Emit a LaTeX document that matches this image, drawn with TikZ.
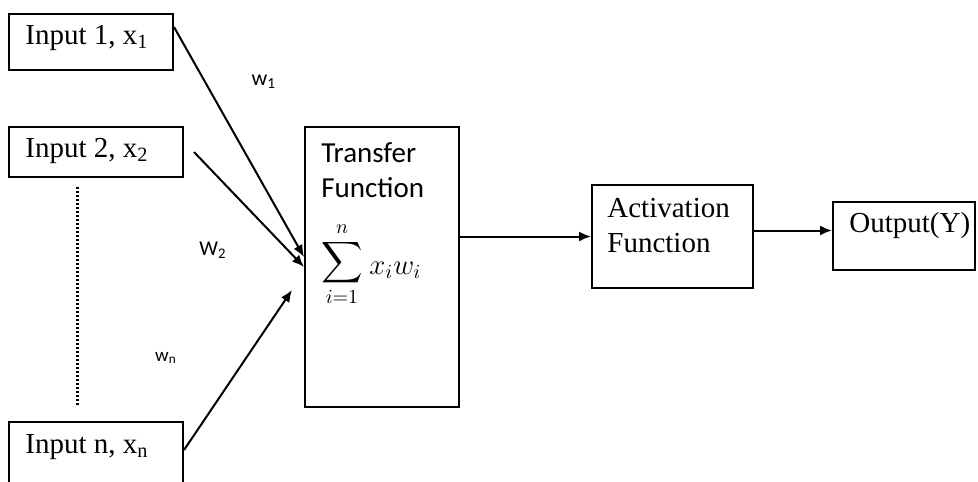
\documentclass[tikz,border=0pt]{standalone}
\usepackage{amsmath}
\usepackage{fontspec}
\setmainfont{Liberation Serif}
\setsansfont{Carlito}
\usetikzlibrary{positioning,arrows.meta}

\begin{document}
\begin{tikzpicture}[x=0.5pt,y=-0.5pt,
	box/.style={draw,line width=1pt,inner sep=0pt},
	lbl/.style={anchor=west,inner sep=0pt,font=\fontsize{14.5}{16}\selectfont},
	slbl/.style={anchor=west,inner sep=0pt,font=\sffamily\fontsize{14.5}{16}\selectfont},
	wlbl/.style={inner sep=0pt,font=\sffamily},
	conn/.style={-{Latex[length=6pt,width=5pt]},line width=1pt}]
	\useasboundingbox (0,0) rectangle (978,481);
	\clip (0,0) rectangle (978,481);
	% inputs
	\node[box,minimum width=82pt,minimum height=28pt] (in_1) at (91,42) {};
	\node[box,minimum width=87pt,minimum height=25pt] (in_2) at (96,152) {};
	\node[box,minimum width=87pt,minimum height=39pt] (in_n) at (96,461) {};
	\node[lbl] (in_1t) at (25,38) {Input 1, x\textsubscript{1}};
	\node[lbl] (in_2t) at (25,151) {Input 2, x\textsubscript{2}};
	\node[lbl] (in_nt) at (25,447) {Input n, x\textsubscript{n}};
	\draw[line width=1.5pt,dash pattern=on 1pt off 1pt] (77.5,187) -- (77.5,407);
	% transfer function
	\node[box,minimum width=77pt,minimum height=140pt] (tf) at (382,267) {};
	\node[slbl] (tf_1) at (321,153) {Transfer};
	\node[slbl] (tf_2) at (321,188) {Function};
	\node[inner sep=0pt,font=\fontsize{14}{17}\selectfont] (sum) at (342,264)
		{$\displaystyle\sum_{i=1}^{n}$};
	\node[anchor=west,inner sep=0pt,font=\fontsize{14}{16}\selectfont] (xw) at (369,270)
		{$x_i w_i$};
	% activation and output
	\node[box,minimum width=80.5pt,minimum height=51.5pt] (act) at (672.5,236.5) {};
	\node[lbl] (act_1) at (607,208) {Activation};
	\node[lbl] (act_2) at (607,243) {Function};
	\node[box,minimum width=71pt,minimum height=34pt] (out) at (904,236) {};
	\node[lbl] (out_t) at (849,226) {Output(Y)};
	% weights
	\node[wlbl,font=\sffamily\fontsize{11}{12}\selectfont] (w_1) at (264,82) {w\textsubscript{1}};
	\node[wlbl,font=\sffamily\fontsize{10.5}{12}\selectfont] (w_2) at (213,250) {W\textsubscript{2}};
	\node[wlbl,font=\sffamily\fontsize{9.5}{12}\selectfont] (w_n) at (166,358) {w\textsubscript{n}};
	% connectors
	\draw[conn] ([yshift=-7pt]in_1.north east) -- ([yshift=5pt]tf.west);
	\draw[conn] ([xshift=5pt]in_2.east) -- (tf.west);
	\draw[conn] ([yshift=5.5pt]in_n.east) -- ([xshift=-6pt,yshift=-11.5pt]tf.west);
	\draw[conn] (tf.east |- act.west) -- (act.west);
	\draw[conn] ([yshift=3pt]act.east) -- ([yshift=3pt]act.east -| out.west);
\end{tikzpicture}
\end{document}
